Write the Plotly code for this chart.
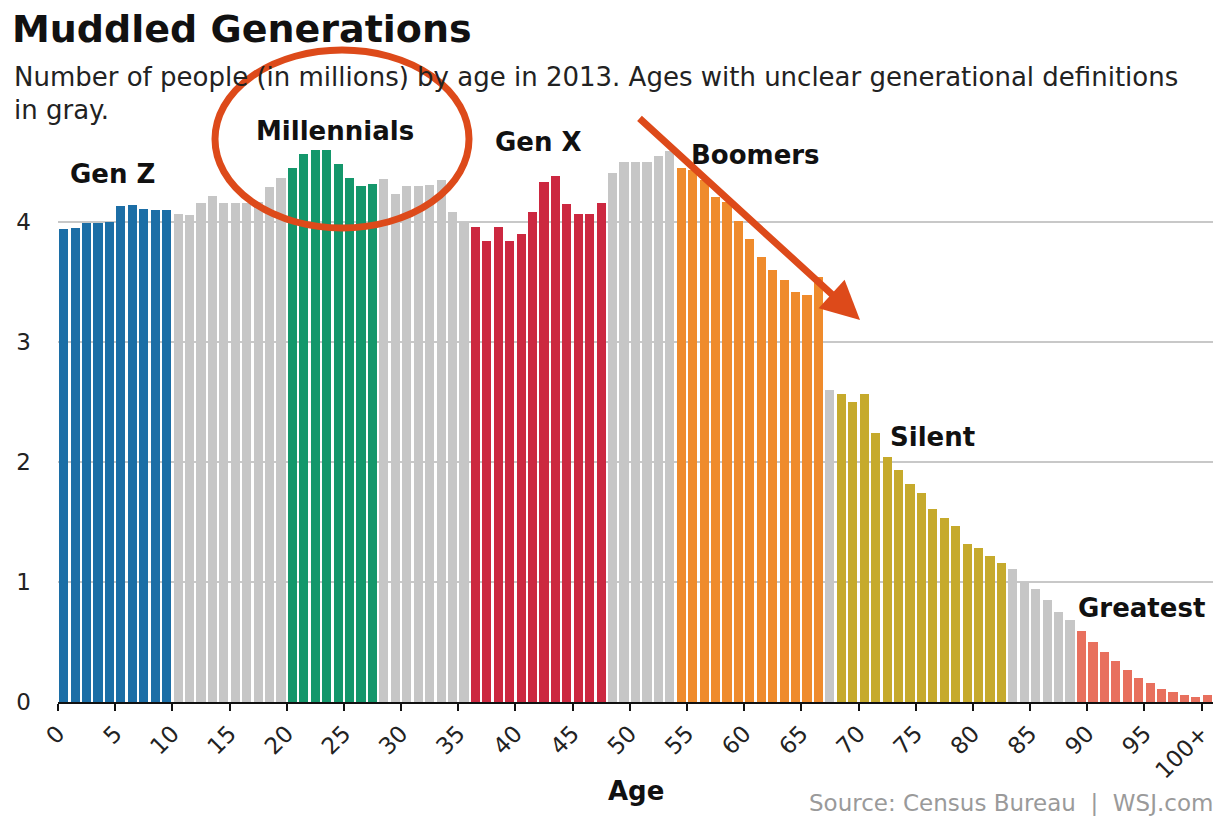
import plotly.graph_objects as go

# ---- data ----
ages = list(range(0, 101))
population = [
    3.94, 3.95, 3.99, 3.99, 4.00, 4.13, 4.14, 4.11, 4.10, 4.10,   # 0-9
    4.07, 4.06, 4.16, 4.22, 4.16, 4.16, 4.16, 4.17, 4.29, 4.37,   # 10-19
    4.45, 4.57, 4.60, 4.60, 4.48, 4.37, 4.30, 4.32,               # 20-27
    4.36, 4.23, 4.30, 4.30, 4.31, 4.35, 4.08, 4.00,               # 28-35
    3.96, 3.84, 3.96, 3.84, 3.90, 4.08, 4.33, 4.38, 4.15, 4.07, 4.07, 4.16,  # 36-47
    4.41, 4.50, 4.50, 4.50, 4.55, 4.59,                           # 48-53
    4.45, 4.43, 4.35, 4.21, 4.17, 4.01, 3.86, 3.71, 3.60, 3.52, 3.42, 3.39, 3.54,  # 54-66
    2.60,                                                         # 67
    2.57, 2.50, 2.57, 2.24, 2.04, 1.93, 1.82, 1.74, 1.61, 1.53, 1.47, 1.32, 1.28, 1.22, 1.16,  # 68-82
    1.11, 1.00, 0.94, 0.85, 0.75, 0.68,                           # 83-88
    0.59, 0.50, 0.42, 0.34, 0.27, 0.20, 0.16, 0.11, 0.08, 0.06, 0.04, 0.06,  # 89-100+
]
# generation spans (first age, last age), gray elsewhere
gen_names = ["Gen Z", "Millennials", "Gen X", "Boomers", "Silent", "Greatest"]
gen_starts = [0, 20, 36, 54, 68, 89]
gen_ends = [9, 27, 47, 66, 82, 100]
gen_colors = ["#1c6ea6", "#14976b", "#cc2840", "#ef8b2c", "#c6aa2c", "#e8705e"]
gray = "#c6c6c6"

tick_vals = list(range(0, 101, 5))
tick_text = [str(v) for v in tick_vals[:-1]] + ["100+"]

colors = []
for a in ages:
    c = gray
    for s, e, col in zip(gen_starts, gen_ends, gen_colors):
        if s <= a <= e:
            c = col
    colors.append(c)

# ---- layout geometry (pixels) ----
W, H = 1230, 818
L, R, T, B = 58, 17, 148, 116
PW, PH = W - L - R, H - T - B
YMAX = PH / 120.0


def px(x, y):
    return (x - L) / PW, (H - B - y) / PH


FONT = "DejaVu Sans, Arial, sans-serif"

fig = go.Figure()
fig.add_trace(go.Bar(
    x=[a + 0.5 for a in ages], y=population,
    marker=dict(color=colors, line=dict(width=0)),
    width=0.8, hoverinfo="y",
))

annotations = []


def txt(text, x, y, size, color="#111", bold=False, xanchor="center", yanchor="middle"):
    xp, yp = px(x, y)
    annotations.append(dict(
        text=("<b>%s</b>" % text) if bold else text,
        x=xp, y=yp, xref="paper", yref="paper", showarrow=False,
        xanchor=xanchor, yanchor=yanchor,
        font=dict(family=FONT, size=size, color=color),
    ))


txt("Muddled Generations", 10, 29, 38, bold=True, xanchor="left")
txt("Number of people (in millions) by age in 2013. Ages with unclear generational definitions",
    12, 77, 26, color="#222", xanchor="left")
txt("in gray.", 12, 110, 26, color="#222", xanchor="left")

label_pos = {"Gen Z": (112, 174), "Millennials": (335, 131), "Gen X": (538, 142),
             "Boomers": (755, 155), "Silent": (932, 437), "Greatest": (1141, 608)}
for n in gen_names:
    x, y = label_pos[n]
    txt(n, x, y, 26, bold=True)

txt("Age", 636, 791, 26, bold=True)
txt("Source: Census Bureau  |  WSJ.com", 1215, 803, 23, color="#9a9a9a", xanchor="right")

# arrow
hx, hy = px(860, 320)
annotations.append(dict(
    x=hx, y=hy, xref="paper", yref="paper", ax=-222, ay=-203, axref="pixel", ayref="pixel",
    showarrow=True, arrowhead=2, arrowsize=1.1, arrowwidth=7, arrowcolor="#dd4a1a", text="",
))

e0x, e0y = px(215, 228)
e1x, e1y = px(469, 50)
shapes = [dict(type="circle", xref="paper", yref="paper", x0=e0x, y0=e0y, x1=e1x, y1=e1y,
               line=dict(color="#dd4a1a", width=7), layer="above")]

fig.update_layout(
    width=W, height=H,
    margin=dict(l=L, r=R, t=T, b=B, pad=0),
    paper_bgcolor="white", plot_bgcolor="white",
    showlegend=False, bargap=0,
    annotations=annotations, shapes=shapes,
    font=dict(family=FONT, color="#111"),
    xaxis=dict(range=[0, 101], tickvals=tick_vals, ticktext=tick_text, tickangle=-45,
               showgrid=False, zeroline=False, showline=True, linecolor="#111", linewidth=2,
               ticks="outside", ticklen=7, tickwidth=2, tickcolor="#111",
               tickfont=dict(size=23, family=FONT, color="#222"), fixedrange=True),
    yaxis=dict(range=[0, YMAX], tickvals=[0, 1, 2, 3, 4], showgrid=True, gridcolor="#c8c8c8",
               gridwidth=1.5, zeroline=False, showline=False, ticks="",
               tickfont=dict(size=23, family=FONT, color="#222"), ticklabelstandoff=26,
               fixedrange=True),
)

fig.write_html("out.html")
